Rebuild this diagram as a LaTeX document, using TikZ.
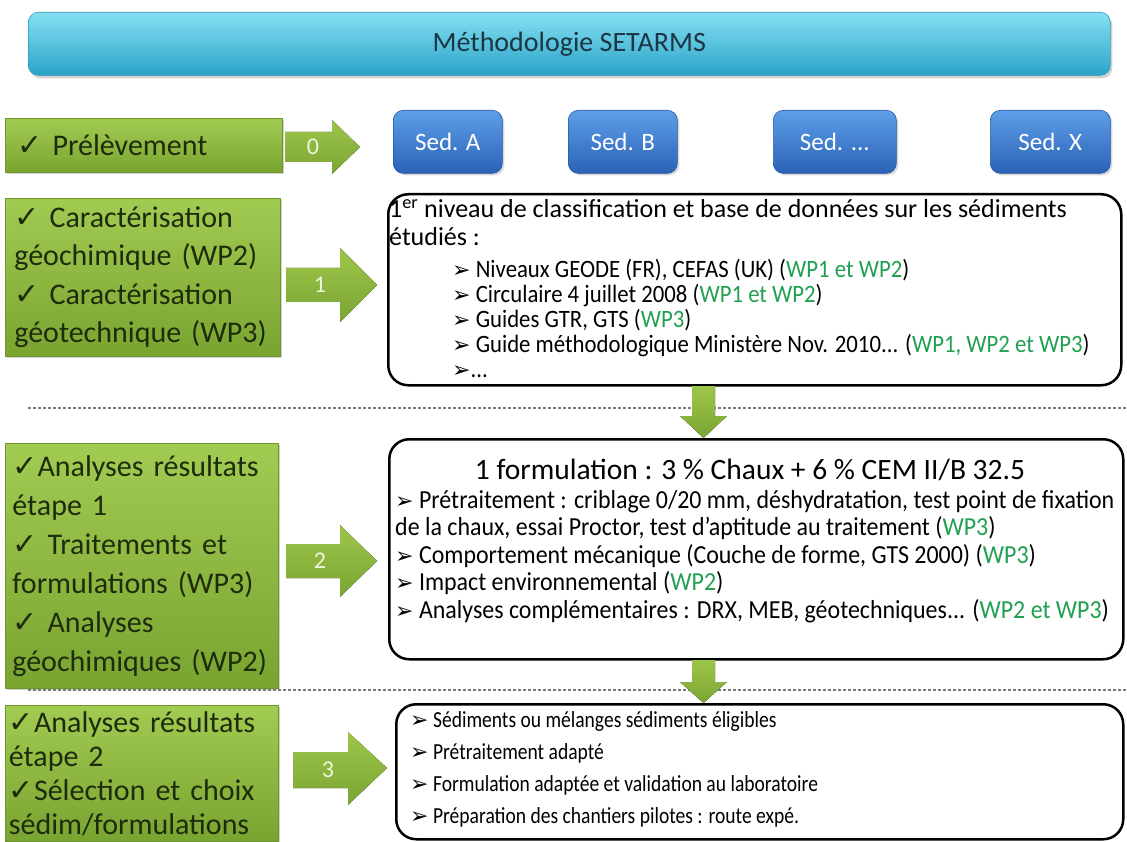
\documentclass[tikz,border=0pt]{standalone}
\usepackage{fontspec}
\setmainfont{Carlito}
\newfontfamily\symf{DejaVu Sans}
\newfontfamily\gfont[WordSpace=0.5]{Carlito}
\newfontfamily\condf[FakeStretch=0.91]{Carlito}
\newfontfamily\condh[FakeStretch=0.92]{Carlito}
\newfontfamily\condg[FakeStretch=0.85]{Carlito}
\usetikzlibrary{shadows}
\definecolor{gtop}{HTML}{A2CB52}
\definecolor{gbot}{HTML}{79A430}
\definecolor{gedge}{HTML}{6E9628}
\definecolor{gtext}{HTML}{1F2C0C}
\definecolor{atop}{HTML}{9CC64A}
\definecolor{abot}{HTML}{7BA533}
\definecolor{alab}{HTML}{EEF6DC}
\definecolor{btop}{HTML}{5E9EE8}
\definecolor{bbot}{HTML}{2A62B6}
\definecolor{bedge}{HTML}{2457A3}
\definecolor{ttop}{HTML}{86E0F2}
\definecolor{tbot}{HTML}{2AA4C8}
\definecolor{tedge}{HTML}{2797BA}
\definecolor{ttext}{HTML}{1C3643}
\definecolor{wpgreen}{HTML}{21A052}
\definecolor{dashgray}{HTML}{7A7A7A}
\newcommand{\ck}{{\symf ✓}}
\newcommand{\bul}{{\symf\fontsize{22}{20}\selectfont ➢}}
\newcommand{\wpc}[1]{\textcolor{wpgreen}{#1}}
\begin{document}
\begin{tikzpicture}[x=1pt,y=-1pt,
  gbox/.style={rectangle, draw=gedge, line width=0.8pt, top color=gtop, bottom color=gbot,
    drop shadow={shadow xshift=2pt,shadow yshift=-2pt,opacity=0.35},
    text=gtext, align=left, anchor=north west, inner xsep=10pt,
    font=\gfont\fontsize{30}{38.5}\selectfont},
  sedbox/.style={rectangle, rounded corners=10pt, top color=btop, bottom color=bbot, draw=bedge,
    line width=0.6pt, text=white, font=\fontsize{25}{28}\selectfont, anchor=north west,
    drop shadow={shadow xshift=2pt,shadow yshift=-2pt,opacity=0.3}},
  wbox/.style={rectangle, rounded corners=20pt, draw=black, line width=2.5pt, anchor=north west},
  garrow/.style={top color=atop, bottom color=abot, draw=none},
  alabel/.style={text=alab, font=\fontsize{24}{28}\selectfont},
  txt/.style={inner sep=0pt, align=left, anchor=north west, text=black},
  dashline/.style={draw=dashgray, line width=1.3pt, dash pattern=on 3pt off 2pt}
]
\useasboundingbox (0,0) rectangle (1127,842);
\fill[white] (0,0) rectangle (1127,842);

% title
\node[rectangle, rounded corners=10pt, top color=ttop, bottom color=tbot, draw=tedge, line width=0.6pt,
  minimum width=1082pt, minimum height=63pt, anchor=north west, text=ttext,
  font=\fontsize{28}{30}\selectfont,
  drop shadow={shadow xshift=2pt,shadow yshift=-3pt,opacity=0.35}] (title) at (28,12) {Méthodologie SETARMS};

% dashed separators
\coordinate (d1a) at (28,408); \coordinate (d1b) at (1127,408);
\coordinate (d2a) at (28,690); \coordinate (d2b) at (1127,690);
\draw[dashline] (d1a) -- (d1b);
\draw[dashline] (d2a) -- (d2b);

% left green boxes
\node[gbox, minimum width=273pt, minimum height=54pt, text width=253pt, inner xsep=12pt] (p0) at (5,118) {\ck\ Prélèvement};
\node[gbox, minimum width=275pt, minimum height=158pt, text width=257pt, inner xsep=9pt] (p1) at (5,198)
  {\ck\ Caractérisation\\géochimique (WP2)\\\ck\ Caractérisation\\géotechnique (WP3)};
\node[gbox, minimum width=273pt, minimum height=245pt, text width=259pt, inner xsep=7pt,
  font=\gfont\fontsize{30}{39}\selectfont] (p2) at (5,443)
  {\ck Analyses résultats\\étape 1\\\ck\ Traitements et\\formulations (WP3)\\\ck\ Analyses\\géochimiques (WP2)};
\node[gbox, minimum width=273pt, minimum height=136pt, text width=266pt, inner xsep=3pt, inner ysep=1pt,
  font=\gfont\fontsize{30}{34}\selectfont] (p3) at (5,705)
  {\ck Analyses résultats\\étape 2\\\ck Sélection et choix\\sédim/formulations};

% right arrows
\fill[garrow] (285,132) -- (332,132) -- (332,120) -- (360,147) -- (332,174) -- (332,162) -- (285,162) -- cycle;
\node[alabel] (a0) at (313,147) {0};
\fill[garrow] (286,268) -- (340,268) -- (340,248) -- (377,285) -- (340,322) -- (340,302) -- (286,302) -- cycle;
\node[alabel] (a1) at (320,285) {1};
\fill[garrow] (286,544) -- (340,544) -- (340,525) -- (377,561) -- (340,597) -- (340,578) -- (286,578) -- cycle;
\node[alabel] (a2) at (320,561) {2};
\fill[garrow] (293,752) -- (348,752) -- (348,732) -- (387,768) -- (348,805) -- (348,788) -- (293,788) -- cycle;
\node[alabel] (a3) at (328,770) {3};

% sediment boxes
\node[sedbox, minimum width=109pt, minimum height=63pt] (sa) at (393,110) {Sed. A};
\node[sedbox, minimum width=109pt, minimum height=63pt] (sb) at (568,110) {Sed. B};
\node[sedbox, minimum width=123pt, minimum height=63pt] (sc) at (773,110) {Sed. ...};
\node[sedbox, minimum width=120pt, minimum height=63pt] (sx) at (990,110) {Sed. X};

% white boxes
\node[wbox, minimum width=733pt, minimum height=191pt] (b1) at (387,193) {};
\node[wbox, minimum width=734pt, minimum height=220pt] (b2) at (388,438) {};
\node[wbox, minimum width=727pt, minimum height=135pt] (b3) at (395,703) {};

% down arrows
\fill[garrow] (692,386) -- (715,386) -- (715,416) -- (727,416) -- (703.5,438) -- (680,416) -- (692,416) -- cycle;
\fill[garrow] (692,660) -- (715,660) -- (715,682) -- (727,682) -- (703.5,703) -- (680,682) -- (692,682) -- cycle;

% box 1 text
\node[txt, font=\fontsize{26}{28}\selectfont] (t1a) at (389,199)
  {1\textsuperscript{er} niveau de classification et base de données sur les sédiments\\étudiés :};
\node[txt, font=\condf\fontsize{25}{25}\selectfont] (t1b) at (452,259)
  {\bul\ Niveaux GEODE (FR), CEFAS (UK) (\wpc{WP1 et WP2})\\
   \bul\ Circulaire 4 juillet 2008 (\wpc{WP1 et WP2})\\
   \bul\ Guides GTR, GTS (\wpc{WP3})\\
   \bul\ Guide méthodologique Ministère Nov. 2010... (\wpc{WP1, WP2 et WP3})\\
   \bul...};

% box 2 text
\node[inner sep=0pt, font=\fontsize{29.5}{30}\selectfont] (t2a) at (750,470)
  {1 formulation : 3 \% Chaux + 6 \% CEM II/B 32.5};
\node[txt, font=\condh\fontsize{26}{27.5}\selectfont] (t2b) at (395,490)
  {\bul\ Prétraitement : criblage 0/20 mm, déshydratation, test point de fixation\\
   de la chaux, essai Proctor, test d’aptitude au traitement (\wpc{WP3})\\
   \bul\ Comportement mécanique (Couche de forme, GTS 2000) (\wpc{WP3})\\
   \bul\ Impact environnemental (\wpc{WP2})\\
   \bul\ Analyses complémentaires : DRX, MEB, géotechniques... (\wpc{WP2 et WP3})};

% box 3 text
\node[txt, font=\condg\fontsize{23}{32}\selectfont] (t3) at (410,711)
  {\bul\ Sédiments ou mélanges sédiments éligibles\\
   \bul\ Prétraitement adapté\\
   \bul\ Formulation adaptée et validation au laboratoire\\
   \bul\ Préparation des chantiers pilotes : route expé.};
\end{tikzpicture}
\end{document}
